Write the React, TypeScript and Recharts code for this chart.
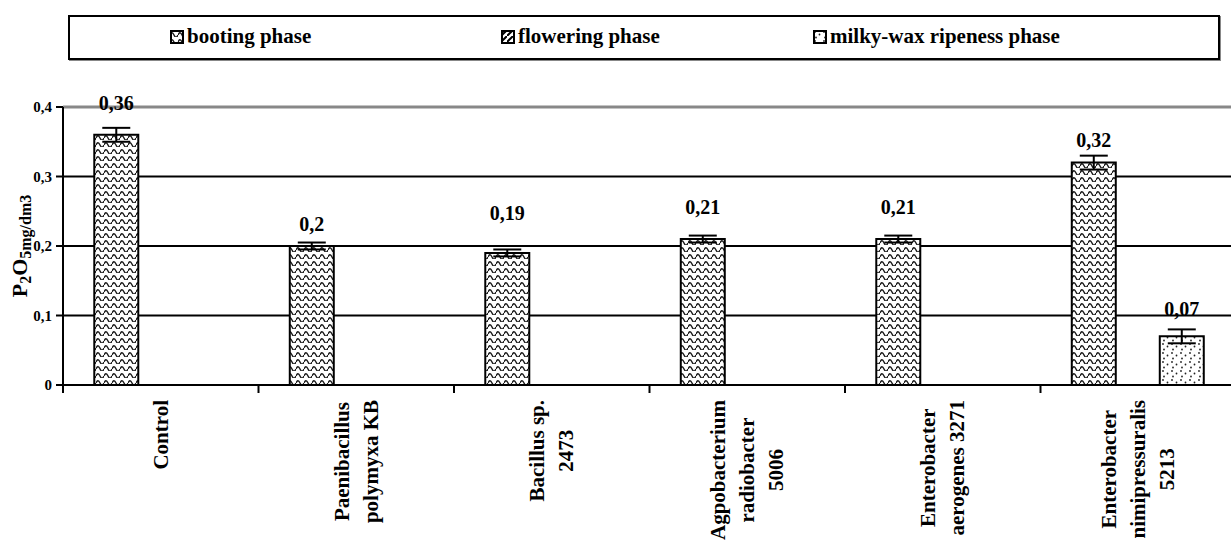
import React from 'react'
import { BarChart, Bar, XAxis, YAxis, CartesianGrid, ReferenceLine, ErrorBar, LabelList, Legend } from 'recharts'

const FONT = "'Liberation Serif', 'Times New Roman', serif"

const categories: string[][] = [
  ['Control'],
  ['Paenibacillus', 'polymyxa KB'],
  ['Bacillus sp.', '2473'],
  ['Agpobacterium', 'radiobacter', '5006'],
  ['Enterobacter', 'aerogenes 3271'],
  ['Enterobacter', 'nimipressuralis', '5213'],
]
const booting = [0.36, 0.2, 0.19, 0.21, 0.21, 0.32]
const bootingErr = [0.01, 0.005, 0.005, 0.005, 0.005, 0.01]
const flowering: (number | null)[] = [null, null, null, null, null, null]
const milky: (number | null)[] = [null, null, null, null, null, 0.07]
const milkyErr: (number | null)[] = [null, null, null, null, null, 0.01]
const yTicks = [0, 0.1, 0.2, 0.3, 0.4]
const seriesNames = ['booting phase', 'flowering phase', 'milky-wax ripeness phase']
const seriesFills = ['url(#wave)', 'url(#diag)', 'url(#dots)']

// value labels were hand-placed in the original, so each sits a bit differently above its bar
const bootingLift = [32, 22, 40, 32, 32, 23]
const milkyLift = [27, 27, 27, 27, 27, 27]

const data = categories.map((lines, i) => ({
  name: lines.join(' '),
  booting: booting[i],
  bootingErr: bootingErr[i],
  flowering: flowering[i],
  milky: milky[i],
  milkyErr: milkyErr[i],
}))

const comma = (v: number) => String(v).replace('.', ',')

let ctx: CanvasRenderingContext2D | null = null
function measure(text: string, size: number) {
  if (!ctx) ctx = document.createElement('canvas').getContext('2d')
  if (!ctx) return text.length * size * 0.5
  ctx.font = `bold ${size}px ${FONT}`
  return ctx.measureText(text).width
}

function Patterns() {
  return (
    <defs>
      <pattern id="wave" width="8" height="7" patternUnits="userSpaceOnUse">
        <rect width="8" height="7" fill="#fff" />
        <path d="M0 5 Q2 0.6 4 5 T8 5" fill="none" stroke="#1a1a1a" strokeWidth="1.4" />
      </pattern>
      <pattern id="diag" width="6" height="6" patternUnits="userSpaceOnUse">
        <rect width="6" height="6" fill="#fff" />
        <path d="M0 6 L6 0" stroke="#000" strokeWidth="2" />
      </pattern>
      <pattern id="dots" width="9" height="9" patternUnits="userSpaceOnUse">
        <rect width="9" height="9" fill="#fff" />
        <circle cx="2" cy="2" r="0.9" fill="#222" />
        <circle cx="6.5" cy="4.5" r="0.9" fill="#222" />
        <circle cx="3" cy="7.5" r="0.9" fill="#222" />
      </pattern>
    </defs>
  )
}

function CategoryTick(props: any) {
  const { x, y, index, width, visibleTicksCount } = props
  const lines = categories[index] || []
  const half = (width || 1173) / (visibleTicksCount || 6) / 2
  const size = 21
  const maxLen = Math.max(...lines.map((l) => measure(l, size)))
  const cy = y + 15 + maxLen / 2
  return (
    <g>
      <line x1={x - half} x2={x - half} y1={y} y2={y + 8} stroke="#000" strokeWidth={2} />
      <g transform={`translate(${x},${cy}) rotate(-90)`}>
        {lines.map((l, i) => (
          <text
            key={i}
            x={0}
            y={(i - (lines.length - 1) / 2) * 29 + 7}
            textAnchor="middle"
            fontFamily={FONT}
            fontWeight="bold"
            fontSize={size}
            fill="#000"
          >
            {l}
          </text>
        ))}
      </g>
    </g>
  )
}

function makeValueLabel(lift: number[]) {
  return function ValueLabel(props: any) {
    const { x, y, width, value, index } = props
    if (value == null) return null
    return (
      <text
        x={x + width / 2}
        y={y - (lift[index] ?? 28) + 7}
        textAnchor="middle"
        fontFamily={FONT}
        fontWeight="bold"
        fontSize={20}
        fill="#000"
      >
        {comma(value)}
      </text>
    )
  }
}
const BootingLabel = makeValueLabel(bootingLift)
const MilkyLabel = makeValueLabel(milkyLift)

function YTitle(props: any) {
  const vb = props.viewBox || { x: 13, y: 107, width: 50, height: 278 }
  const cx = vb.x + 14
  const cy = vb.y + vb.height / 2
  return (
    <text x={cx} y={cy} transform={`rotate(-90 ${cx} ${cy})`} textAnchor="middle" fontFamily={FONT} fontWeight="bold" fill="#000">
      <tspan fontSize={22}>P</tspan>
      <tspan fontSize={16} dy={4}>2</tspan>
      <tspan fontSize={22} dy={-4}>O</tspan>
      <tspan fontSize={16} dy={4}>5mg/dm3</tspan>
    </text>
  )
}

const legendLeft = [100, 431, 743]

function LegendBox() {
  return (
    <div
      style={{
        width: 1148,
        height: 41,
        border: '2px solid #000',
        boxShadow: '1px 1px 0 #888',
        position: 'relative',
        background: '#fff',
        fontFamily: FONT,
        fontWeight: 'bold',
        fontSize: 21,
      }}
    >
      {seriesNames.map((n, i) => (
        <div key={n} style={{ position: 'absolute', left: legendLeft[i], top: 7, display: 'flex', alignItems: 'center', whiteSpace: 'nowrap' }}>
          <svg width={14} height={14} style={{ marginRight: 3 }}>
            <rect x={1} y={1} width={12} height={12} fill={seriesFills[i]} stroke="#000" strokeWidth={2} />
          </svg>
          <span>{n}</span>
        </div>
      ))}
    </div>
  )
}

export default function App() {
  return (
    <div style={{ position: 'absolute', left: 0, top: 0, width: 1231, height: 543, overflow: 'hidden', background: '#fff' }}>
      <BarChart
        width={1236}
        height={543}
        data={data}
        margin={{ top: 107, right: 0, bottom: 8, left: 13 }}
        barCategoryGap="16%"
        barGap={0}
      >
        <Patterns />
        <CartesianGrid vertical={false} stroke="#000" strokeWidth={2} />
        <ReferenceLine y={0.4} stroke="#888" strokeWidth={3} />
        <XAxis
          dataKey="name"
          height={150}
          interval={0}
          tickLine={false}
          tickSize={0}
          tickMargin={0}
          axisLine={{ stroke: '#000', strokeWidth: 2 }}
          tick={<CategoryTick />}
        />
        <YAxis
          width={50}
          domain={[0, 0.4]}
          ticks={yTicks}
          tickFormatter={comma}
          tickSize={7}
          tickMargin={4}
          tickLine={{ stroke: '#000', strokeWidth: 2 }}
          axisLine={{ stroke: '#000', strokeWidth: 2 }}
          tick={{ fontFamily: FONT, fontWeight: 'bold', fontSize: 15, fill: '#000' }}
          label={<YTitle />}
        />
        <Legend
          layout="horizontal"
          verticalAlign="middle"
          align="center"
          wrapperStyle={{ top: 15, left: 68, width: 1152 }}
          content={<LegendBox />}
        />
        <Bar dataKey="booting" name={seriesNames[0]} fill={seriesFills[0]} stroke="#000" strokeWidth={2} isAnimationActive={false}>
          <ErrorBar dataKey="bootingErr" width={14} stroke="#000" strokeWidth={2} />
          <LabelList dataKey="booting" content={<BootingLabel />} />
        </Bar>
        <Bar dataKey="flowering" name={seriesNames[1]} fill={seriesFills[1]} stroke="#000" strokeWidth={2} isAnimationActive={false} />
        <Bar dataKey="milky" name={seriesNames[2]} fill={seriesFills[2]} stroke="#000" strokeWidth={2} isAnimationActive={false}>
          <ErrorBar dataKey="milkyErr" width={14} stroke="#000" strokeWidth={2} />
          <LabelList dataKey="milky" content={<MilkyLabel />} />
        </Bar>
      </BarChart>
    </div>
  )
}
